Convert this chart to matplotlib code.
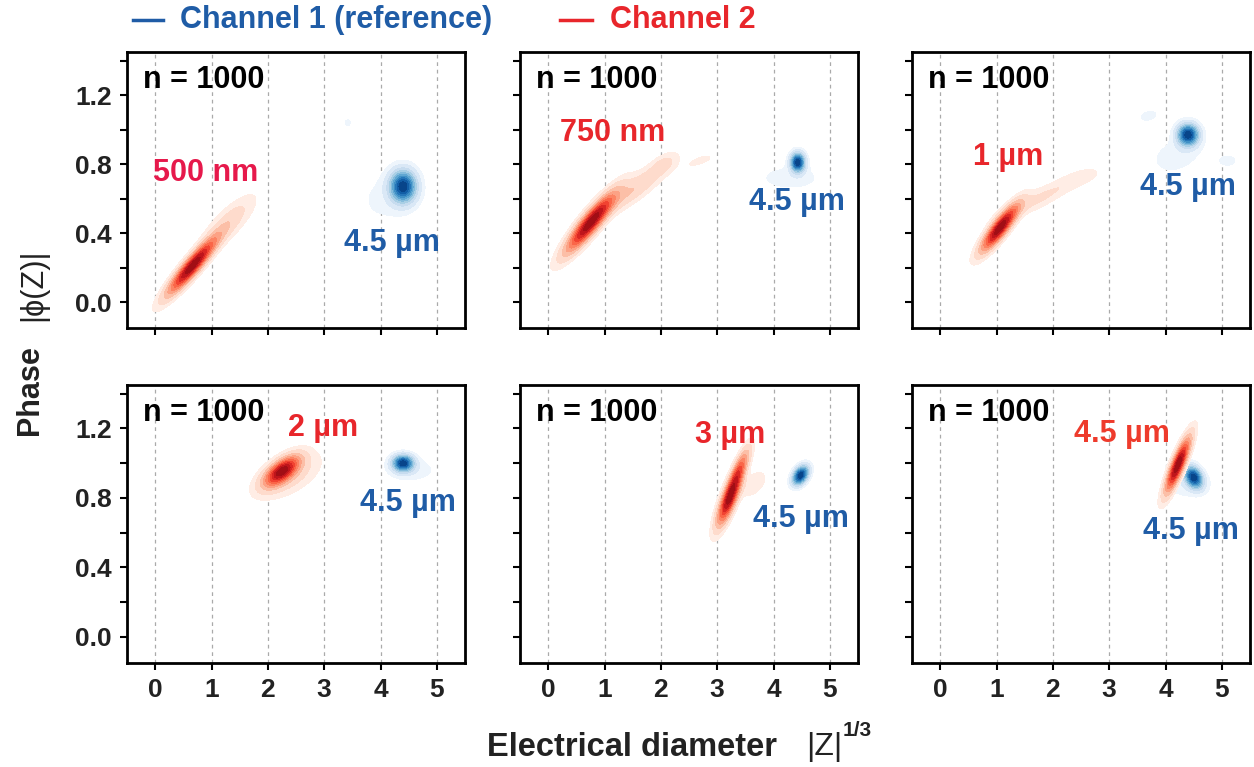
import numpy as np
import matplotlib
matplotlib.use("Agg")
import matplotlib.pyplot as plt
from matplotlib.colors import ListedColormap
from matplotlib.lines import Line2D

plt.rcParams['font.family'] = ['Liberation Sans', 'DejaVu Sans']

# ---------------- data ----------------
# each component: (center_x, center_y, sd_x, sd_y, rho, weight)
panel_titles = ["500 nm", "750 nm", "1 \u00b5m", "2 \u00b5m", "3 \u00b5m", "4.5 \u00b5m"]
n_events = [1000, 1000, 1000, 1000, 1000, 1000]

red_500nm = [(0.66, 0.21, 0.28, 0.105, 0.92, 1.0),
             (1.30, 0.46, 0.30, 0.10, 0.80, 0.15)]
blue_500nm = [(4.40, 0.67, 0.15, 0.06, 0.0, 1.0),
              (4.10, 0.60, 0.35, 0.10, 0.1, 0.06),
              (3.42, 1.04, 0.05, 0.02, 0.0, 0.06)]

red_750nm = [(0.75, 0.46, 0.28, 0.11, 0.90, 1.0),
             (1.50, 0.65, 0.40, 0.10, 0.88, 0.20),
             (2.05, 0.80, 0.15, 0.04, 0.50, 0.10),
             (2.70, 0.82, 0.20, 0.03, 0.70, 0.06)]
blue_750nm = [(4.43, 0.81, 0.08, 0.035, 0.0, 1.0),
              (4.30, 0.72, 0.40, 0.05, 0.0, 0.07)]

red_1um = [(1.06, 0.43, 0.21, 0.085, 0.87, 1.0),
           (1.75, 0.60, 0.45, 0.08, 0.88, 0.12),
           (2.50, 0.72, 0.25, 0.04, 0.60, 0.06)]
blue_1um = [(4.40, 0.97, 0.12, 0.04, 0.0, 1.0),
            (4.20, 0.85, 0.30, 0.07, 0.30, 0.08),
            (3.70, 1.08, 0.20, 0.04, 0.30, 0.05),
            (5.10, 0.82, 0.20, 0.04, 0.00, 0.05)]

red_2um = [(2.25, 0.955, 0.20, 0.055, 0.65, 1.0),
           (2.35, 0.93, 0.35, 0.08, 0.55, 0.20)]
blue_2um = [(4.40, 1.00, 0.12, 0.03, 0.0, 1.0),
            (4.55, 0.96, 0.30, 0.045, 0.0, 0.08)]

red_3um = [(3.22, 0.80, 0.14, 0.10, 0.80, 1.0),
           (3.40, 0.97, 0.12, 0.08, 0.80, 0.45),
           (3.65, 0.88, 0.15, 0.05, 0.50, 0.10)]
blue_3um = [(4.48, 0.93, 0.09, 0.035, 0.40, 1.0)]

red_4p5um = [(4.22, 0.99, 0.14, 0.10, 0.85, 1.0)]
blue_4p5um = [(4.50, 0.92, 0.10, 0.04, -0.30, 1.0),
              (4.40, 0.88, 0.25, 0.05, 0.0, 0.10)]

red_sets = [red_500nm, red_750nm, red_1um, red_2um, red_3um, red_4p5um]
blue_sets = [blue_500nm, blue_750nm, blue_1um, blue_2um, blue_3um, blue_4p5um]

# label positions (data coords)
red_label_xy = [(0.89, 0.75), (1.15, 0.98), (1.2, 0.84), (2.98, 1.20), (3.23, 1.16), (3.22, 1.17)]
blue_label_xy = [(4.2, 0.34), (4.41, 0.58), (4.4, 0.67), (4.49, 0.77), (4.49, 0.68), (4.46, 0.61)]
red_label_colors = ["#e6194b", "#e8262b", "#e8262b", "#e8262b", "#e8262b", "#ee3b2c"]
blue_color = "#1f5ca6"

x_ticks = [0, 1, 2, 3, 4, 5]
y_ticks = [0.0, 0.2, 0.4, 0.6, 0.8, 1.0, 1.2, 1.4]
y_ticklabels = ["0.0", "", "0.4", "", "0.8", "", "1.2", ""]

# ---------------- figure ----------------
W, H = 1254, 767
fig = plt.figure(figsize=(W / 100, H / 100), dpi=100)

col_left = [127, 520, 912]
col_width = 338
row_top = [52, 385]
row_height = [276, 278]

gx = np.linspace(-0.5, 5.5, 500)
gy = np.linspace(-0.15, 1.45, 360)
GX, GY = np.meshgrid(gx, gy)


def density(comps):
    z = np.zeros_like(GX)
    for cx, cy, sx, sy, rho, w in comps:
        dx = (GX - cx) / sx
        dy = (GY - cy) / sy
        q = (dx * dx - 2 * rho * dx * dy + dy * dy) / (1 - rho * rho)
        z += w * np.exp(-0.5 * q)
    return z / z.max()


levels = [0.04, 0.1, 0.2, 0.3, 0.4, 0.5, 0.6, 0.7, 0.8, 0.9, 1.01]
reds = ListedColormap(plt.cm.Reds(np.linspace(0.05, 0.88, len(levels) - 1)))
blues = ListedColormap(plt.cm.Blues(np.linspace(0.05, 0.92, len(levels) - 1)))

for i in range(6):
    r, c = divmod(i, 3)
    left = col_left[c] / W
    bottom = 1 - (row_top[r] + row_height[r]) / H
    ax = fig.add_axes([left, bottom, col_width / W, row_height[r] / H])
    ax.set_xlim(-0.5, 5.5)
    ax.set_ylim(-0.15, 1.45)

    for xv in x_ticks:
        ax.axvline(xv, color="#aaaaaa", lw=0.9, ls=(0, (3, 3)), zorder=0)

    zb = density(blue_sets[i])
    zr = density(red_sets[i])
    ax.contourf(GX, GY, zb, levels=levels, cmap=blues, zorder=1)
    ax.contourf(GX, GY, zr, levels=levels, cmap=reds, zorder=2)

    ax.text(-0.21, 1.29, f"n = {n_events[i]}", fontsize=22, fontweight="bold",
            color="black", ha="left", va="center", zorder=5)
    rx, ry = red_label_xy[i]
    ax.text(rx, ry, panel_titles[i], fontsize=22, fontweight="bold",
            color=red_label_colors[i], ha="center", va="center", zorder=5)
    bx, by = blue_label_xy[i]
    ax.text(bx, by, "4.5 \u00b5m", fontsize=22, fontweight="bold",
            color=blue_color, ha="center", va="center", zorder=5)

    ax.set_xticks(x_ticks)
    ax.set_yticks(y_ticks)
    if c == 0:
        ax.set_yticklabels(y_ticklabels)
    else:
        ax.set_yticklabels([])
    if r == 1:
        ax.set_xticklabels([str(t) for t in x_ticks])
    else:
        ax.set_xticklabels([])
    ax.tick_params(direction="out", length=5, width=1.5, labelsize=19,
                   labelcolor="#222222", pad=6)
    for lab in ax.get_xticklabels() + ax.get_yticklabels():
        lab.set_fontweight("bold")
    for sp in ax.spines.values():
        sp.set_linewidth(2)
        sp.set_color("black")

# legend
fig.add_artist(Line2D([133 / W, 163 / W], [1 - 20 / H, 1 - 20 / H], color=blue_color, lw=2.5))
fig.text(180 / W, 1 - 20 / H, "Channel 1 (reference)", fontsize=22, fontweight="bold",
         color=blue_color, ha="left", va="center")
fig.add_artist(Line2D([560 / W, 592 / W], [1 - 20 / H, 1 - 20 / H], color="#e8262b", lw=2.5))
fig.text(610 / W, 1 - 20 / H, "Channel 2", fontsize=22, fontweight="bold",
         color="#e8262b", ha="left", va="center")

# axis labels
fig.text(487 / W, 1 - 747 / H, "Electrical diameter", fontsize=23.5, fontweight="bold",
         color="#222222", ha="left", va="center")
fig.text(806 / W, 1 - 747 / H, "|Z|", fontsize=23, color="#222222", ha="left", va="center")
fig.text(843 / W, 1 - 731 / H, "1/3", fontsize=15, fontweight="bold", color="#222222",
         ha="left", va="center")
fig.text(30 / W, 1 - 390 / H, "Phase", fontsize=22, fontweight="bold", color="#222222",
         rotation=90, ha="center", va="center")
fig.text(33 / W, 1 - 285 / H, "|\u03d5(Z)|", fontsize=22, color="#222222",
         rotation=90, ha="center", va="center")

fig.savefig("out.png", dpi=100)
